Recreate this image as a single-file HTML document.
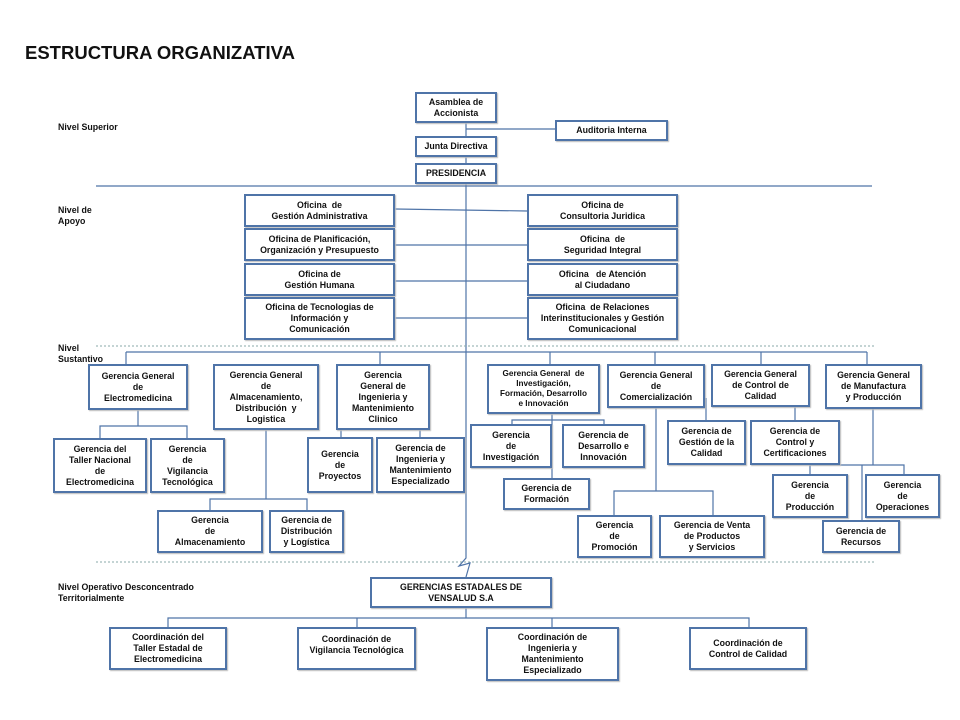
<!DOCTYPE html>
<html><head><meta charset="utf-8"><style>
body{margin:0;width:960px;height:720px;background:#fff;position:relative;overflow:hidden;font-family:"Liberation Sans",Arial,sans-serif}
.b{position:absolute;box-sizing:border-box;border:2px solid #4f74a8;background:#fff;display:flex;align-items:center;justify-content:center;text-align:center;font-weight:bold;font-size:8.8px;line-height:11px;color:#111;box-shadow:1px 1px 1px #bbb}
.t{position:absolute;font-weight:bold;font-size:8.8px;line-height:11px;color:#111}
svg{position:absolute;left:0;top:0}
</style></head><body>
<svg width="960" height="720">
<g stroke="#4f74a8" stroke-width="1.2" fill="none">
<line x1="96" y1="186" x2="872" y2="186"/>
<polyline points="466,123 466,558 459,566 470,563 466,577"/>
<line x1="466" y1="129" x2="555" y2="129"/>
<line x1="395" y1="209" x2="527" y2="211"/>
<line x1="395" y1="245" x2="527" y2="245"/>
<line x1="395" y1="281" x2="527" y2="281"/>
<line x1="395" y1="318" x2="527" y2="318"/>
<line x1="126" y1="352" x2="867" y2="352"/>
<line x1="126" y1="352" x2="126" y2="364"/>
<line x1="380" y1="352" x2="380" y2="364"/>
<line x1="550" y1="352" x2="550" y2="364"/>
<line x1="655" y1="352" x2="655" y2="364"/>
<line x1="761" y1="352" x2="761" y2="364"/>
<line x1="867" y1="352" x2="867" y2="364"/>
<polyline points="138,410 138,426"/><polyline points="100,438 100,426 187,426 187,438"/>
<polyline points="341,437 341,428 420,428 420,437"/>
<polyline points="266,430 266,499"/><polyline points="210,510 210,499 307,499 307,510"/>
<polyline points="512,424 512,420 604,420 604,424"/><polyline points="552,414 552,478"/>
<polyline points="656,408 656,491"/><polyline points="614,515 614,491 713,491 713,515"/>
<polyline points="706,398 706,420"/><polyline points="795,407 795,420"/>
<polyline points="873,409 873,465"/><polyline points="810,474 810,465 904,465 904,474"/><polyline points="862,465 862,520"/>
<polyline points="466,608 466,618"/><polyline points="168,627 168,618 749,618 749,627"/>
<line x1="357" y1="618" x2="357" y2="627"/><line x1="552" y1="618" x2="552" y2="627"/>
</g>
<g stroke="#8aa" stroke-width="1" stroke-dasharray="2,2">
<line x1="96" y1="346" x2="876" y2="346"/>
<line x1="96" y1="562" x2="876" y2="562"/>
</g>
</svg>
<div class="t" style="left:25px;top:42px;font-size:18.5px;line-height:21px">ESTRUCTURA ORGANIZATIVA</div>
<div class="t" style="left:58px;top:122px">Nivel Superior</div>
<div class="t" style="left:58px;top:205px">Nivel de<br>Apoyo</div>
<div class="t" style="left:58px;top:343px">Nivel<br>Sustantivo</div>
<div class="t" style="left:58px;top:582px">Nivel Operativo Desconcentrado<br>Territorialmente</div>

<div class="b" style="left:415px;top:92px;width:82px;height:31px">Asamblea de<br>Accionista</div>
<div class="b" style="left:555px;top:120px;width:113px;height:21px">Auditoria Interna</div>
<div class="b" style="left:415px;top:136px;width:82px;height:21px">Junta Directiva</div>
<div class="b" style="left:415px;top:163px;width:82px;height:21px">PRESIDENCIA</div>

<div class="b" style="left:244px;top:194px;width:151px;height:33px">Oficina &nbsp;de<br>Gestión Administrativa</div>
<div class="b" style="left:244px;top:228px;width:151px;height:33px">Oficina de Planificación,<br>Organización y Presupuesto</div>
<div class="b" style="left:244px;top:263px;width:151px;height:33px">Oficina de<br>Gestión Humana</div>
<div class="b" style="left:244px;top:297px;width:151px;height:43px">Oficina de Tecnologias de<br>Información y<br>Comunicación</div>
<div class="b" style="left:527px;top:194px;width:151px;height:33px">Oficina de<br>Consultoria Juridica</div>
<div class="b" style="left:527px;top:228px;width:151px;height:33px">Oficina &nbsp;de<br>Seguridad Integral</div>
<div class="b" style="left:527px;top:263px;width:151px;height:33px">Oficina &nbsp; de Atención<br>al Ciudadano</div>
<div class="b" style="left:527px;top:297px;width:151px;height:43px">Oficina &nbsp;de Relaciones<br>Interinstitucionales y Gestión<br>Comunicacional</div>

<div class="b" style="left:88px;top:364px;width:100px;height:46px">Gerencia General<br>de<br>Electromedicina</div>
<div class="b" style="left:213px;top:364px;width:106px;height:66px">Gerencia General<br>de<br>Almacenamiento,<br>Distribución &nbsp;y<br>Logistica</div>
<div class="b" style="left:336px;top:364px;width:94px;height:66px">Gerencia<br>General de<br>Ingenieria y<br>Mantenimiento<br>Clinico</div>
<div class="b" style="left:53px;top:438px;width:94px;height:55px">Gerencia del<br>Taller Nacional<br>de<br>Electromedicina</div>
<div class="b" style="left:150px;top:438px;width:75px;height:55px">Gerencia<br>de<br>Vigilancia<br>Tecnológica</div>
<div class="b" style="left:307px;top:437px;width:66px;height:56px">Gerencia<br>de<br>Proyectos</div>
<div class="b" style="left:376px;top:437px;width:89px;height:56px">Gerencia de<br>Ingenieria y<br>Mantenimiento<br>Especializado</div>
<div class="b" style="left:157px;top:510px;width:106px;height:43px">Gerencia<br>de<br>Almacenamiento</div>
<div class="b" style="left:269px;top:510px;width:75px;height:43px">Gerencia de<br>Distribución<br>y Logística</div>

<div class="b" style="left:487px;top:364px;width:113px;height:50px;font-size:8.2px;line-height:10px">Gerencia General &nbsp;de<br>Investigación,<br>Formación, Desarrollo<br>e Innovación</div>
<div class="b" style="left:607px;top:364px;width:98px;height:44px">Gerencia General<br>de<br>Comercialización</div>
<div class="b" style="left:711px;top:364px;width:99px;height:43px">Gerencia General<br>de Control de<br>Calidad</div>
<div class="b" style="left:825px;top:364px;width:97px;height:45px">Gerencia General<br>de Manufactura<br>y Producción</div>
<div class="b" style="left:470px;top:424px;width:82px;height:44px">Gerencia<br>de<br>Investigación</div>
<div class="b" style="left:562px;top:424px;width:83px;height:44px">Gerencia de<br>Desarrollo e<br>Innovación</div>
<div class="b" style="left:503px;top:478px;width:87px;height:32px">Gerencia de<br>Formación</div>
<div class="b" style="left:667px;top:420px;width:79px;height:45px">Gerencia de<br>Gestión de la<br>Calidad</div>
<div class="b" style="left:750px;top:420px;width:90px;height:45px">Gerencia de<br>Control y<br>Certificaciones</div>
<div class="b" style="left:577px;top:515px;width:75px;height:43px">Gerencia<br>de<br>Promoción</div>
<div class="b" style="left:659px;top:515px;width:106px;height:43px">Gerencia de Venta<br>de Productos<br>y Servicios</div>
<div class="b" style="left:772px;top:474px;width:76px;height:44px">Gerencia<br>de<br>Producción</div>
<div class="b" style="left:865px;top:474px;width:75px;height:44px">Gerencia<br>de<br>Operaciones</div>
<div class="b" style="left:822px;top:520px;width:78px;height:33px">Gerencia de<br>Recursos</div>

<div class="b" style="left:370px;top:577px;width:182px;height:31px">GERENCIAS ESTADALES DE<br>VENSALUD S.A</div>
<div class="b" style="left:109px;top:627px;width:118px;height:43px">Coordinación del<br>Taller Estadal de<br>Electromedicina</div>
<div class="b" style="left:297px;top:627px;width:119px;height:43px;align-items:flex-start;padding-top:5px">Coordinación de<br>Vigilancia Tecnológica</div>
<div class="b" style="left:486px;top:627px;width:133px;height:54px">Coordinación de<br>Ingenieria y<br>Mantenimiento<br>Especializado</div>
<div class="b" style="left:689px;top:627px;width:118px;height:43px">Coordinación de<br>Control de Calidad</div>
</body></html>
